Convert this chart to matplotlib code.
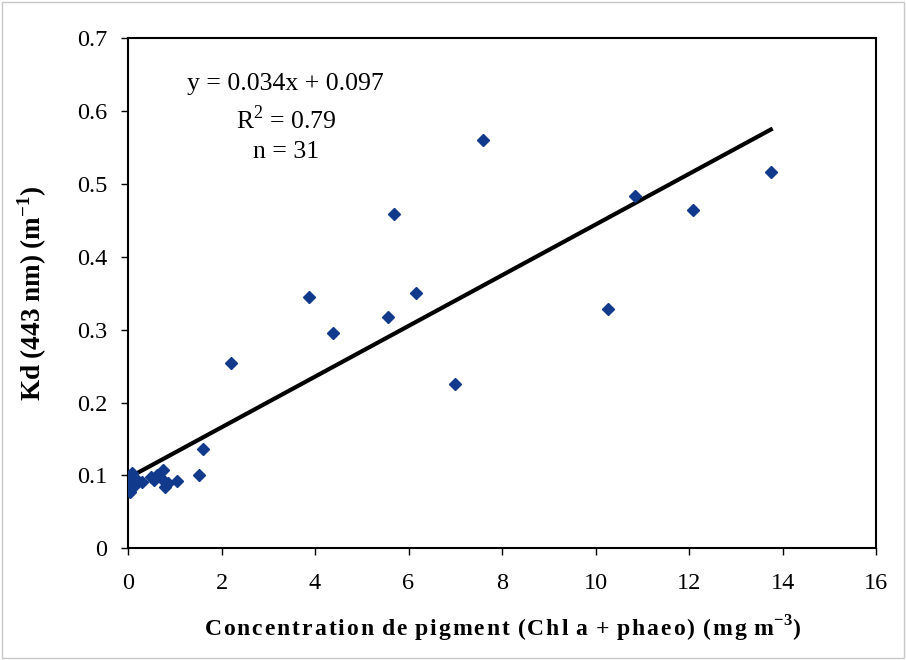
import numpy as np
import matplotlib
matplotlib.use("Agg")
import matplotlib.pyplot as plt
from matplotlib.patches import Rectangle

plt.rcParams['font.family'] = ['Liberation Serif', 'DejaVu Serif']
plt.rcParams['mathtext.fontset'] = 'custom'
plt.rcParams['mathtext.rm'] = 'Liberation Serif'
plt.rcParams['mathtext.bf'] = 'Liberation Serif:bold'

# pigment concentration (mg m-3) and Kd(443) (m-1)
pigment = [0.02, 0.04, 0.05, 0.08, 0.10, 0.12, 0.15, 0.22, 0.30, 0.50, 0.55, 0.62,
           0.70, 0.75, 0.80, 0.85, 1.04, 1.52, 1.61, 2.21, 3.88, 4.39, 5.56, 5.70,
           6.17, 6.99, 7.60, 10.26, 10.84, 12.09, 13.75]
kd443 = [0.082, 0.077, 0.092, 0.104, 0.096, 0.086, 0.089, 0.093, 0.091, 0.098, 0.094, 0.100,
         0.096, 0.108, 0.084, 0.090, 0.092, 0.101, 0.136, 0.255, 0.345, 0.295, 0.318, 0.459,
         0.350, 0.225, 0.560, 0.328, 0.484, 0.465, 0.517]

# trend line as drawn
trend_x = [0.0, 13.75]
trend_slope = 0.0348
trend_intercept = 0.0965

fig = plt.figure(figsize=(9.06, 6.6), dpi=100)
ax = fig.add_axes([0.1413, 0.1692, 0.8256, 0.7725])

ax.plot(pigment, kd443, linestyle='none', marker='D', markersize=6.5,
        color='#123a8c', markeredgecolor='#123a8c', zorder=3)
tx = np.array(trend_x)
ax.plot(tx, trend_slope * tx + trend_intercept, color='black', linewidth=3, zorder=2)

ax.set_xlim(0, 16)
ax.set_ylim(0, 0.7)
ax.set_xticks(np.arange(0, 17, 2))
ax.set_yticks(np.arange(0, 0.71, 0.1))
ax.set_yticklabels(['0', '0.1', '0.2', '0.3', '0.4', '0.5', '0.6', '0.7'])
ax.tick_params(direction='out', length=5, width=1, labelsize=17.5)
ax.tick_params(axis='x', pad=13)
ax.tick_params(axis='y', pad=10)
for s in ax.spines.values():
    s.set_linewidth(1.5)

# letter-spaced x label, like the scanned original
words = ['Concentration', 'de', 'pigment', '(Chl', 'a', '+', 'phaeo)', '(mg']
xlab = ' \u200a'.join('\u200a'.join(w) for w in words) + ' \u200am$^{\\mathbf{-3}}$)'
ax.set_xlabel(xlab, fontsize=17, fontweight='bold', labelpad=14)
ax.set_ylabel(r'Kd (443 nm) (m$^{\mathbf{-1}}$)', fontsize=19.5, fontweight='bold', labelpad=20)

ax.text(0.211, 0.844, 'y = 0.034x + 0.097\nR$^2$ = 0.79\nn = 31', transform=ax.transAxes,
        ha='center', va='center', fontsize=18.5, linespacing=1.45)

fig.patches.append(Rectangle((0.002, 0.003), 0.996, 0.994, transform=fig.transFigure,
                             fill=False, edgecolor='#c8c8c8', linewidth=1))

plt.savefig('out.png', dpi=100)
